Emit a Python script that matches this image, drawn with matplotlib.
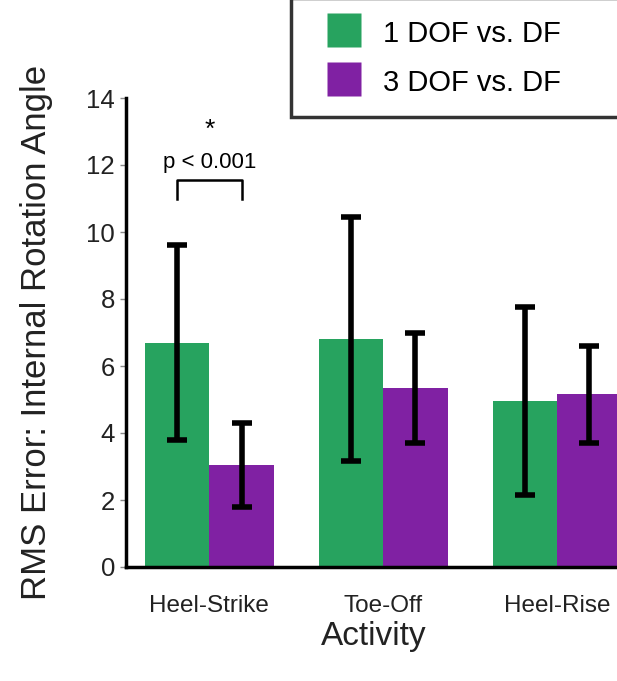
import numpy as np
import matplotlib
matplotlib.use("Agg")
import matplotlib.pyplot as plt
from matplotlib.lines import Line2D

plt.rcParams['font.family'] = ['Liberation Sans', 'DejaVu Sans']

activities = ['Heel-Strike', 'Toe-Off', 'Heel-Rise']
series_names = ['1 DOF vs. DF', '3 DOF vs. DF']
one_dof_mean = [6.7, 6.8, 4.95]
one_dof_err = [2.9, 3.65, 2.8]
three_dof_mean = [3.05, 5.35, 5.15]
three_dof_err = [1.25, 1.65, 1.45]
colors = ['#27a35f', '#8021a3']

fig = plt.figure(figsize=(6.17, 6.81), dpi=100)
ax = fig.add_axes([126/617, 114/681, 518/617, 469/681])

x = np.arange(len(activities))
w = 0.37
ax.bar(x - w/2, one_dof_mean, w, color=colors[0], zorder=1)
ax.bar(x + w/2, three_dof_mean, w, color=colors[1], zorder=1)
ax.errorbar(x - w/2, one_dof_mean, yerr=one_dof_err, fmt='none', ecolor='black',
            elinewidth=4, capsize=7, capthick=4, zorder=3)
ax.errorbar(x + w/2, three_dof_mean, yerr=three_dof_err, fmt='none', ecolor='black',
            elinewidth=4, capsize=7, capthick=4, zorder=3)

ax.set_xlim(-0.48, 2.5)
ax.set_ylim(0, 14)
ax.set_yticks(range(0, 15, 2))
ax.set_xticks(x)
ax.set_xticklabels(activities, fontsize=17.5)
ax.tick_params(axis='x', length=0, pad=20, colors='#222222')
ax.tick_params(axis='y', labelsize=18.5, length=4, width=1, color='#888888', pad=4,
               labelcolor='#222222')
for s in ['top', 'right']:
    ax.spines[s].set_visible(False)
for s in ['left', 'bottom']:
    ax.spines[s].set_linewidth(2.5)
ax.set_xlabel('Activity', fontsize=24, color='#222222')
ax.xaxis.set_label_coords((374 - 126) / 518, -0.115)
ax.set_ylabel('RMS Error: Internal Rotation Angle', fontsize=25, color='#222222')
ax.yaxis.set_label_coords(-0.141, 0.5)

# significance bracket
ax.plot([-w/2, -w/2, w/2, w/2], [11.0, 11.55, 11.55, 11.0], color='black', lw=1.8)
ax.text(0, 12.06, 'p < 0.001', ha='center', va='center', fontsize=16)
ax.text(0, 13.05, '*', ha='center', va='center', fontsize=19)

handles = [Line2D([], [], marker='s', linestyle='none', markersize=23.8,
                  markerfacecolor=c, markeredgecolor='none') for c in colors]
fig.legend(handles, series_names, loc='lower left', numpoints=1,
           bbox_to_anchor=(291/617, 564/681, 0.7, 0.2), mode='expand',
           fontsize=21, frameon=True, fancybox=False, edgecolor='black',
           handlelength=2.28, handleheight=1.14, handletextpad=0.22,
           borderpad=0.67, labelspacing=0.66, borderaxespad=0)
fig.legends[0].get_frame().set_linewidth(2.5)

fig.savefig('out.png', dpi=100)
